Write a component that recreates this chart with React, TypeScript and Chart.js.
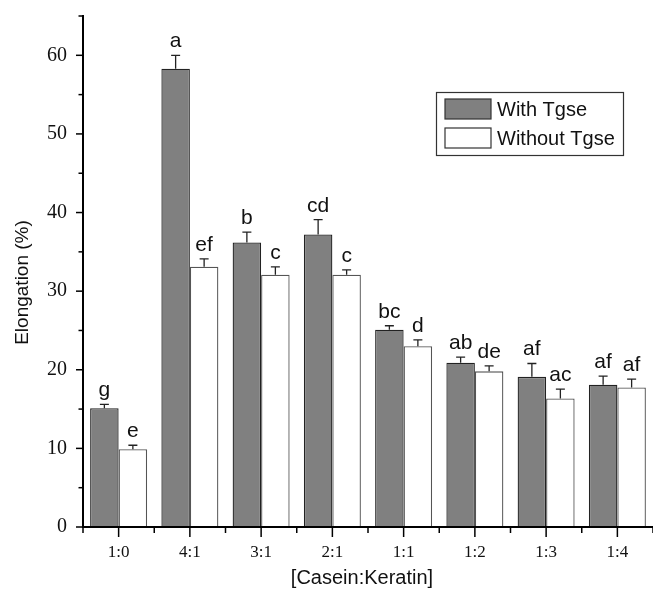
import React, { useEffect, useRef } from "react";
import { Chart, registerables } from "chart.js";

Chart.register(...registerables);

const categories = ["1:0", "4:1", "3:1", "2:1", "1:1", "1:2", "1:3", "1:4"];
const withTgse = [15.1, 58.3, 36.2, 37.2, 25.1, 20.9, 19.1, 18.1];
const withTgseErr = [0.5, 1.7, 1.3, 1.9, 0.5, 0.7, 1.7, 1.1];
const withoutTgse = [9.9, 33.1, 32.1, 32.1, 23.0, 19.8, 16.35, 17.75];
const withoutTgseErr = [0.5, 1.0, 1.0, 0.6, 0.8, 0.7, 1.2, 1.05];
const withLetters = ["g", "a", "b", "cd", "bc", "ab", "af", "af"];
const withoutLetters = ["e", "ef", "c", "c", "d", "de", "ac", "af"];
const yMax = 65;
const yStep = 5;
const seriesNames = ["With Tgse", "Without Tgse"];
const xTitle = "[Casein:Keratin]";
const yTitle = "Elongation (%)";

const errs = [withTgseErr, withoutTgseErr];
const letters = [withLetters, withoutLetters];

const decorPlugin = {
  id: "decor",
  afterDatasetsDraw(chart: any) {
    const ctx = chart.ctx;
    const ys = chart.scales.y;
    ctx.save();
    chart.data.datasets.forEach((ds: any, di: number) => {
      const meta = chart.getDatasetMeta(di);
      meta.data.forEach((bar: any, i: number) => {
        const v = ds.data[i];
        const top = ys.getPixelForValue(v + errs[di][i]);
        const base = ys.getPixelForValue(v);
        ctx.strokeStyle = "#222";
        ctx.lineWidth = 1.3;
        ctx.beginPath();
        ctx.moveTo(bar.x, base);
        ctx.lineTo(bar.x, top);
        ctx.moveTo(bar.x - 4.5, top);
        ctx.lineTo(bar.x + 4.5, top);
        ctx.stroke();
        ctx.fillStyle = "#111";
        ctx.font = "21px 'Liberation Sans', Arial, sans-serif";
        ctx.textAlign = "center";
        ctx.textBaseline = "alphabetic";
        ctx.fillText(letters[di][i], bar.x, top - 8);
      });
    });
    ctx.restore();
  },
  afterDraw(chart: any) {
    const ctx = chart.ctx;
    const area = chart.chartArea;
    const xs = chart.scales.x;
    const ys = chart.scales.y;
    ctx.save();
    // axis lines
    ctx.strokeStyle = "#000";
    ctx.lineWidth = 2;
    ctx.beginPath();
    ctx.moveTo(area.left, area.top - 1);
    ctx.lineTo(area.left, area.bottom);
    ctx.lineTo(area.right, area.bottom);
    ctx.stroke();
    ctx.lineWidth = 1.5;
    // y ticks
    ys.ticks.forEach((t: any) => {
      const y = ys.getPixelForValue(t.value);
      const major = t.value % 10 === 0;
      ctx.beginPath();
      ctx.moveTo(area.left, y);
      ctx.lineTo(area.left - (major ? 7 : 4.5), y);
      ctx.stroke();
    });
    // x ticks
    const n = categories.length;
    for (let i = 0; i < n; i++) {
      const x = xs.getPixelForValue(i);
      ctx.beginPath();
      ctx.moveTo(x, area.bottom);
      ctx.lineTo(x, area.bottom + 10);
      ctx.stroke();
    }
    const w = (area.right - area.left) / n;
    for (let i = 0; i <= n; i++) {
      const x = area.left + i * w;
      ctx.beginPath();
      ctx.moveTo(x, area.bottom);
      ctx.lineTo(x, area.bottom + 6);
      ctx.stroke();
    }
    // titles
    ctx.fillStyle = "#111";
    ctx.font = "20px 'Liberation Sans', Arial, sans-serif";
    ctx.textAlign = "center";
    ctx.textBaseline = "middle";
    ctx.fillText(xTitle, (area.left + area.right) / 2 - 6, area.bottom + 51);
    ctx.save();
    ctx.translate(23, (area.top + area.bottom) / 2 + 11);
    ctx.rotate(-Math.PI / 2);
    ctx.font = "19px 'Liberation Sans', Arial, sans-serif";
    ctx.fillText(yTitle, 0, 0);
    ctx.restore();
    // legend
    const lx = area.left + 353;
    const ly = area.top + 76;
    const lw = 187;
    const lh = 63;
    ctx.fillStyle = "#fff";
    ctx.fillRect(lx, ly, lw, lh);
    ctx.strokeStyle = "#333";
    ctx.lineWidth = 1.2;
    ctx.strokeRect(lx + 0.5, ly + 0.5, lw, lh);
    chart.data.datasets.forEach((ds: any, di: number) => {
      const sy = ly + 7 + di * 29;
      ctx.fillStyle = ds.backgroundColor;
      ctx.fillRect(lx + 9, sy, 46, 20);
      ctx.strokeStyle = "#333";
      ctx.lineWidth = 1.2;
      ctx.strokeRect(lx + 9, sy, 46, 20);
      ctx.fillStyle = "#111";
      ctx.font = "20px 'Liberation Sans', Arial, sans-serif";
      ctx.textAlign = "left";
      ctx.textBaseline = "middle";
      ctx.fillText(ds.label, lx + 61, sy + 11);
    });
    ctx.restore();
  },
};

export default function App() {
  const ref = useRef<HTMLCanvasElement>(null);
  useEffect(() => {
    document.body.style.margin = "0";
    const chart = new Chart(ref.current as HTMLCanvasElement, {
      type: "bar",
      data: {
        labels: categories,
        datasets: [
          {
            label: seriesNames[0],
            data: withTgse,
            backgroundColor: "#808080",
            borderColor: "#222",
            borderWidth: 1.3,
            categoryPercentage: 0.8,
            barPercentage: 1.0,
          },
          {
            label: seriesNames[1],
            data: withoutTgse,
            backgroundColor: "#ffffff",
            borderColor: "#555",
            borderWidth: 1.3,
            categoryPercentage: 0.8,
            barPercentage: 1.0,
          },
        ],
      },
      options: {
        responsive: false,
        animation: false,
        devicePixelRatio: 1,
        layout: { padding: { top: 16, right: 0, left: 0, bottom: 0 } },
        plugins: { legend: { display: false }, tooltip: { enabled: false } },
        scales: {
          x: {
            grid: { display: false },
            border: { display: false },
            ticks: {
              color: "#111",
              padding: 7,
              font: { family: "'Liberation Serif', 'Times New Roman', serif", size: 17 },
            },
            afterFit: (s: any) => {
              s.height = 63;
              s.paddingLeft = 0;
              s.paddingRight = 0;
            },
          },
          y: {
            min: 0,
            max: yMax,
            grid: { display: false },
            border: { display: false },
            ticks: {
              stepSize: yStep,
              color: "#111",
              padding: 8,
              font: { family: "'Liberation Serif', 'Times New Roman', serif", size: 20 },
              callback: (v: any) => (Number(v) % 10 === 0 ? String(v) : ""),
            },
            afterFit: (s: any) => {
              s.width = 83;
              s.paddingTop = 0;
              s.paddingBottom = 0;
            },
          },
        },
      },
      plugins: [decorPlugin],
    });
    return () => chart.destroy();
  }, []);
  return (
    <div style={{ width: 653, height: 590, background: "#fff" }}>
      <canvas ref={ref} width={653} height={590} />
    </div>
  );
}
